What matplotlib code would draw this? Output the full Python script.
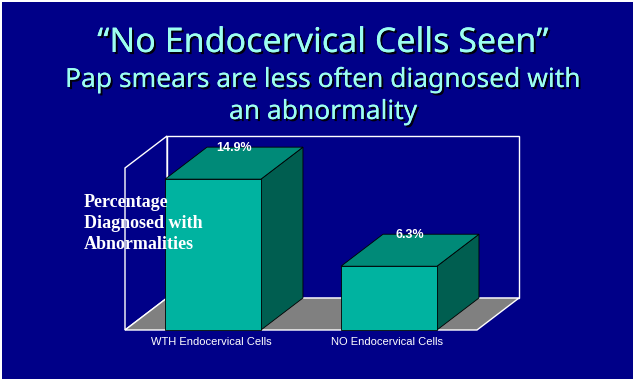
import matplotlib
matplotlib.use('Agg')
import matplotlib.pyplot as plt
from matplotlib.patches import Polygon, Rectangle
import matplotlib.transforms as mtransforms
import matplotlib.patheffects as pe
import numpy as np

# ---- data ----
categories = ['WTH Endocervical Cells', 'NO Endocervical Cells']
values = [14.9, 6.3]
value_labels = ['14.9%', '6.3%']
title_lines = ['\u201cNo Endocervical Cells Seen\u201d',
               'Pap smears are less often diagnosed with',
               'an abnormality']
ylabel_text = 'Percentage\nDiagnosed with\nAbnormalities'
ymax = 16

# ---- style ----
W, H = 636, 382
NAVY = '#000088'
TITLE_C = '#9CFFF0'
FRONT_C = '#00B3A0'
TOP_C = '#008A78'
SIDE_C = '#005E50'
FLOOR_C = '#808080'
DX, DY = 42, 32          # 3-D depth offset in pixels
BAR_W = 0.545

fig = plt.figure(figsize=(W / 100, H / 100), dpi=100)
fig.patch.set_facecolor('white')
fig.patches.append(Rectangle((2 / W, 3 / H), 631 / W, 377 / H,
                             transform=fig.transFigure, facecolor=NAVY,
                             edgecolor='none', zorder=-10))

ax = fig.add_axes([125 / W, (H - 330) / H, 352 / W, 162 / H])
ax.set_xlim(-0.5, len(categories) - 0.5)
ax.set_ylim(0, ymax)
ax.axis('off')
ax.set_zorder(1)

ident = mtransforms.IdentityTransform()


def P(x, y, back=False):
    d = np.array(ax.transData.transform((x, y)), dtype=float)
    if back:
        d += (DX, DY)
    return d


def poly(pts, fc, ec, lw, z):
    p = Polygon(pts, closed=True, transform=ident, facecolor=fc,
                edgecolor=ec, linewidth=lw, zorder=z, clip_on=False)
    ax.add_patch(p)


x_lo, x_hi = -0.5, len(categories) - 0.5
# back wall
poly([P(x_lo, 0, True), P(x_hi, 0, True), P(x_hi, ymax, True), P(x_lo, ymax, True)],
     NAVY, 'white', 1.0, 1)
# left wall
poly([P(x_lo, 0), P(x_lo, ymax), P(x_lo, ymax, True), P(x_lo, 0, True)],
     NAVY, 'white', 1.0, 2)
# floor
poly([P(x_lo, 0), P(x_hi, 0), P(x_hi, 0, True), P(x_lo, 0, True)],
     FLOOR_C, 'white', 1.0, 3)

# bars
for i, v in enumerate(values):
    x0, x1 = i - BAR_W / 2, i + BAR_W / 2
    z = 5 + i
    poly([P(x1, 0), P(x1, 0, True), P(x1, v, True), P(x1, v)], SIDE_C, 'black', 0.6, z)
    poly([P(x0, v), P(x1, v), P(x1, v, True), P(x0, v, True)], TOP_C, 'black', 0.6, z)
    poly([P(x0, 0), P(x1, 0), P(x1, v), P(x0, v)], FRONT_C, 'black', 0.6, z)
    lx, ly = P(i, v) + (DX / 2, DY - 1)
    ax.text(lx, ly, value_labels[i], transform=ident, ha='center', va='center',
            color='white', fontsize=9, fontweight='bold',
            family='Liberation Sans', zorder=10)
    cx, cy = P(i, 0) + (-2, -12)
    ax.text(cx, cy, categories[i], transform=ident, ha='center', va='center',
            color='white', fontsize=8, family='Liberation Sans', zorder=10)

# y label
fig.text(84 / W, 1 - 194 / H, ylabel_text, ha='left', va='top', color='white',
         fontsize=13, fontweight='bold', family='Liberation Serif',
         linespacing=1.3, zorder=20)

# titles
shadow = [pe.withSimplePatchShadow(offset=(1.5, -1.5), shadow_rgbFace='black', alpha=0.9),
          pe.Normal()]
title_specs = [(52, 24.5), (87, 19), (119, 19)]
for line, (base, size) in zip(title_lines, title_specs):
    fig.text(323 / W, 1 - base / H, line, ha='center', va='baseline', color=TITLE_C,
             fontsize=size, family='Noto Sans', path_effects=shadow, zorder=20)

fig.savefig('out.png', dpi=100, facecolor=fig.get_facecolor())
